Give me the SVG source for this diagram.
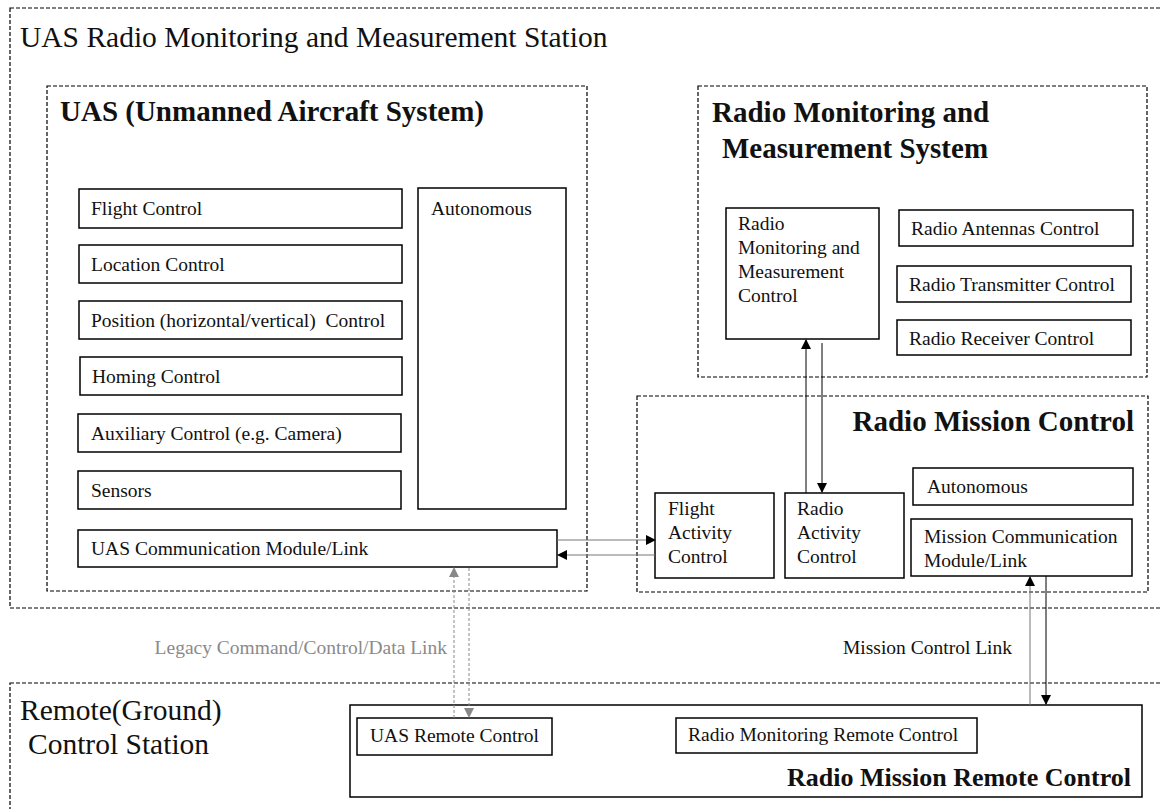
<svg xmlns="http://www.w3.org/2000/svg" width="1162" height="809" viewBox="0 0 1162 809">
<style>
.dash{fill:none;stroke:#000;stroke-width:1.2;stroke-dasharray:4 2}
.box{fill:#fff;stroke:#000;stroke-width:1.5}
.t{font-family:"Liberation Serif","Times New Roman",serif;font-size:19.5px;fill:#111}
.big{font-family:"Liberation Serif","Times New Roman",serif;font-size:29.5px;fill:#111}
.bold{font-family:"Liberation Serif","Times New Roman",serif;font-size:29px;font-weight:bold;fill:#111}
.bold3{font-family:"Liberation Serif","Times New Roman",serif;font-size:26px;font-weight:bold;fill:#111}
.gray{font-family:"Liberation Serif","Times New Roman",serif;font-size:19.5px;fill:#8a8a8a}
.ln{stroke:#000;stroke-width:1;fill:none}
.lg{stroke:#777;stroke-width:1;fill:none}
.ld{stroke:#888;stroke-width:1;fill:none;stroke-dasharray:3 2}
</style>
<defs>
<marker id="ah" markerWidth="10" markerHeight="10" refX="9" refY="5" orient="auto" markerUnits="userSpaceOnUse"><path d="M0,0 L10,5 L0,10 z" fill="#000"/></marker>
<marker id="ahg" markerWidth="10" markerHeight="10" refX="9" refY="5" orient="auto" markerUnits="userSpaceOnUse"><path d="M0,0 L10,5 L0,10 z" fill="#888"/></marker>
</defs>
<rect width="1162" height="809" fill="#fff"/>

<g id="station">
<rect class="dash" x="10" y="8" width="1160" height="600"/>
<text class="big" x="20" y="47">UAS Radio Monitoring and Measurement Station</text>
</g>

<g id="uas">
<rect class="dash" x="47" y="86" width="540" height="505"/>
<text class="bold" x="60" y="121">UAS (Unmanned Aircraft System)</text>
</g>
<g id="flight-control"><rect class="box" x="79" y="189" width="323" height="39"/><text class="t" x="91" y="215">Flight Control</text></g>
<g id="location-control"><rect class="box" x="79" y="245" width="323" height="38"/><text class="t" x="91" y="271">Location Control</text></g>
<g id="position-control"><rect class="box" x="79" y="301" width="323" height="38"/><text class="t" x="91" y="327" xml:space="preserve">Position (horizontal/vertical)  Control</text></g>
<g id="homing-control"><rect class="box" x="80" y="357" width="322" height="38"/><text class="t" x="92" y="383">Homing Control</text></g>
<g id="auxiliary-control"><rect class="box" x="78" y="414" width="323" height="38"/><text class="t" x="91" y="440">Auxiliary Control (e.g. Camera)</text></g>
<g id="sensors"><rect class="box" x="78" y="471" width="323" height="38"/><text class="t" x="91" y="497">Sensors</text></g>
<g id="uas-autonomous"><rect class="box" x="418" y="188" width="148" height="321"/><text class="t" x="431" y="215">Autonomous</text></g>
<g id="uas-comm"><rect class="box" x="78" y="530" width="479" height="37"/><text class="t" x="91" y="555">UAS Communication Module/Link</text></g>

<g id="rmms">
<rect class="dash" x="698" y="86" width="449" height="291"/>
<text class="bold" x="712" y="122">Radio Monitoring and</text>
<text class="bold" x="722" y="158">Measurement System</text>
</g>
<g id="rmm-control"><rect class="box" x="726" y="208" width="153" height="131"/>
<text class="t" x="738" y="230">Radio</text><text class="t" x="738" y="254">Monitoring and</text><text class="t" x="738" y="278">Measurement</text><text class="t" x="738" y="302">Control</text></g>
<g id="antennas"><rect class="box" x="899" y="210" width="234" height="36"/><text class="t" x="911" y="235">Radio Antennas Control</text></g>
<g id="transmitter"><rect class="box" x="897" y="266" width="234" height="36"/><text class="t" x="909" y="291">Radio Transmitter Control</text></g>
<g id="receiver"><rect class="box" x="897" y="320" width="234" height="35"/><text class="t" x="909" y="345">Radio Receiver  Control</text></g>

<g id="rmc">
<rect class="dash" x="637" y="396" width="511" height="196"/>
<text class="bold" x="1134" y="431" text-anchor="end">Radio Mission Control</text>
</g>
<g id="flight-activity"><rect class="box" x="655" y="493" width="119" height="85"/>
<text class="t" x="668" y="515">Flight</text><text class="t" x="668" y="539">Activity</text><text class="t" x="668" y="563">Control</text></g>
<g id="radio-activity"><rect class="box" x="785" y="493" width="119" height="85"/>
<text class="t" x="797" y="515">Radio</text><text class="t" x="797" y="539">Activity</text><text class="t" x="797" y="563">Control</text></g>
<g id="rmc-autonomous"><rect class="box" x="913" y="468" width="220" height="37"/><text class="t" x="927" y="493">Autonomous</text></g>
<g id="mission-comm"><rect class="box" x="911" y="519" width="221" height="57"/>
<text class="t" x="924" y="543">Mission Communication</text><text class="t" x="924" y="567">Module/Link</text></g>

<g id="ground">
<rect class="dash" x="10" y="683" width="1160" height="140"/>
<text class="big" x="20" y="720">Remote(Ground)</text>
<text class="big" x="28" y="754">Control Station</text>
</g>
<g id="rmrc"><rect class="box" x="350" y="705" width="792" height="92"/>
<text class="bold3" x="1131" y="786" text-anchor="end">Radio Mission Remote Control</text></g>
<g id="uas-remote"><rect class="box" x="357" y="718" width="195" height="37"/><text class="t" x="370" y="742">UAS Remote Control</text></g>
<g id="rm-remote"><rect class="box" x="676" y="718" width="301" height="35"/><text class="t" x="688" y="741">Radio Monitoring Remote Control</text></g>

<g id="connectors">
<line class="lg" x1="557" y1="540" x2="655" y2="540" marker-end="url(#ah)"/>
<line class="lg" x1="655" y1="555" x2="558" y2="555" marker-end="url(#ah)"/>
<line class="ln" x1="806" y1="493" x2="806" y2="340" marker-end="url(#ah)"/>
<line class="ln" x1="822" y1="343" x2="822" y2="492" marker-end="url(#ah)"/>
<line class="ld" x1="454" y1="718" x2="454" y2="568" marker-end="url(#ahg)"/>
<line class="ld" x1="469" y1="568" x2="469" y2="717" marker-end="url(#ahg)"/>
<line class="lg" x1="1030" y1="705" x2="1030" y2="577" marker-end="url(#ah)"/>
<line class="ln" x1="1046" y1="576" x2="1046" y2="704" marker-end="url(#ah)"/>
<text class="gray" x="447" y="654" text-anchor="end">Legacy Command/Control/Data Link</text>
<text class="t" x="843" y="654">Mission Control Link</text>
</g>
</svg>
